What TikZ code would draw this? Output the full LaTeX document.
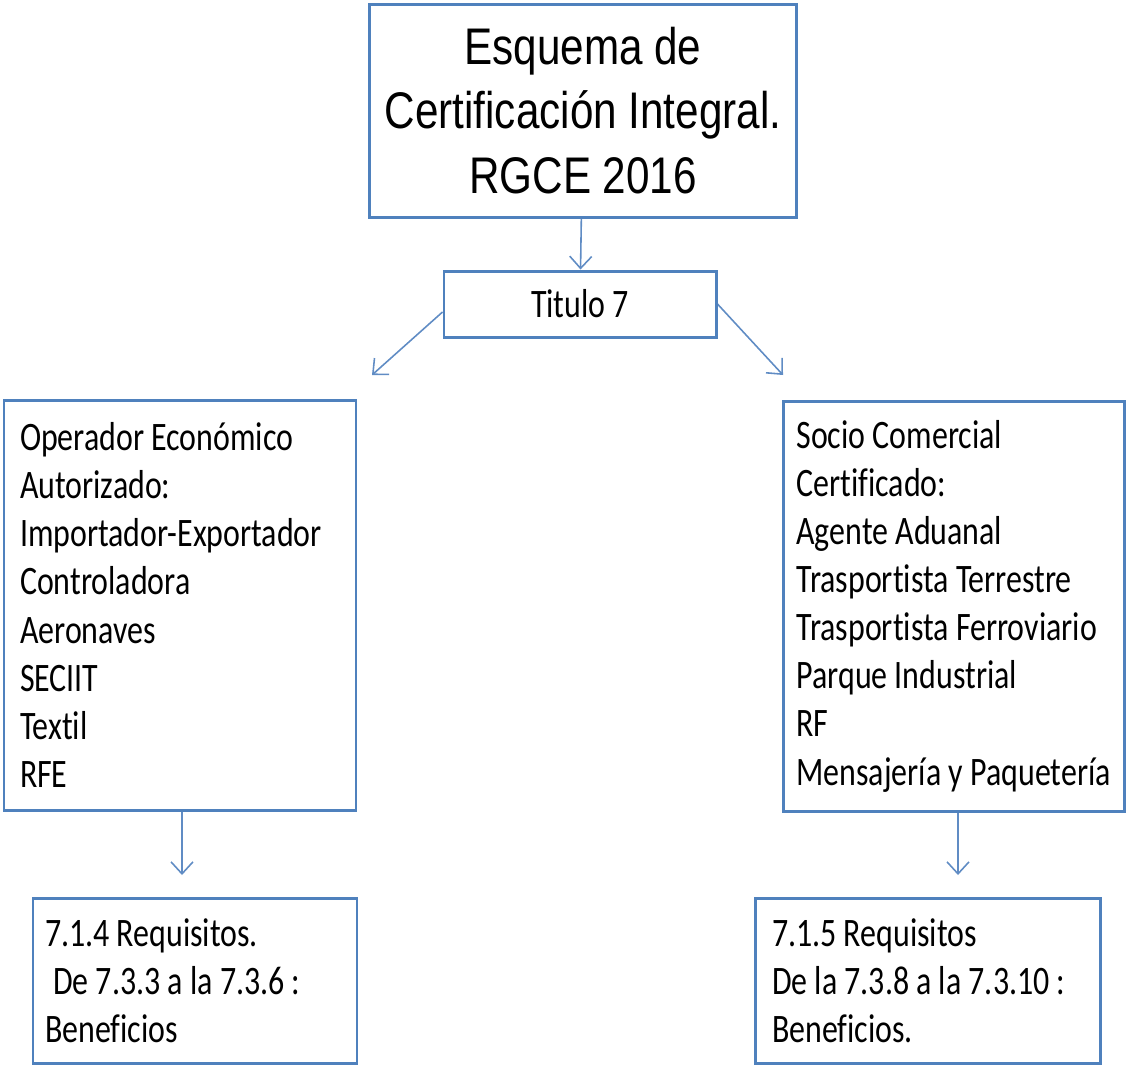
\documentclass[tikz,border=0pt]{standalone}
\usepackage{fontspec}
\usepackage{tikz}
\setmainfont{Carlito}[FakeStretch=0.79, Ligatures=NoCommon]
\newfontfamily\headfont{Liberation Sans}[FakeStretch=0.82]
\hyphenpenalty=10000
\definecolor{white}{rgb}{1.0, 1.0, 1.0}
\definecolor{black}{rgb}{0.0, 0.0, 0.0}
\definecolor{boxblue}{RGB}{79, 129, 189}
\definecolor{linkblue}{RGB}{96, 140, 196}
\usetikzlibrary{arrows.meta}
\pgfdeclarelayer{edgelayer}
\pgfdeclarelayer{nodelayer}
\pgfsetlayers{edgelayer,nodelayer,main}
\tikzstyle{box}=[draw=boxblue, line width=1.7pt, fill=white, inner ysep=0pt]
\tikzstyle{listbox}=[box, align=flush left, font=\fontsize{23}{27.4}\selectfont]
\tikzstyle{link}=[draw=linkblue, line width=0.9pt, -{Straight Barb[length=2.4mm,width=4.4mm]}]

\begin{document}
\begin{tikzpicture}
        \useasboundingbox (0, 0) rectangle (22.54, -21.32);
        \begin{pgfonlayer}{nodelayer}
            \node [style = box, align=flush center, text width=8.3cm, minimum height=4.26cm,
                   font=\headfont\fontsize{29.3}{36.9}\selectfont] (esquema) at (11.66, -2.21)
                {Esquema de\\Certificación Integral.\\RGCE 2016};
            \node [style = box, minimum width=5.44cm, minimum height=1.32cm,
                   font=\fontsize{23}{27.4}\selectfont] (titulo) at (11.6, -6.08) {Titulo 7};
            \node [style = listbox, inner xsep=0.32cm, text width=6.4cm, minimum height=8.2cm] (oea) at (3.6, -12.1)
                {Operador~Económico\\Autorizado:\\Importador-Exportador\\Controladora\\Aeronaves\\SECIIT\\Textil\\RFE};
            \node [style = listbox, inner xsep=0.26cm, text width=6.3cm, minimum height=8.2cm] (scc) at (19.08, -12.12)
                {Socio~Comercial\\Certificado:\\Agente~Aduanal\\Trasportista~Terrestre\\Trasportista~Ferroviario\\Parque~Industrial\\RF\\Mensajería~y~Paquetería};
            \node [style = listbox, inner xsep=0.24cm, text width=6.0cm, minimum height=3.3cm] (reqoea) at (3.9, -19.61)
                {7.1.4~Requisitos.\\\hspace*{0.2em}De~7.3.3~a~la~7.3.6~:\\Beneficios};
            \node [style = listbox, inner xsep=0.34cm, text width=6.22cm, minimum height=3.3cm] (reqscc) at (18.55, -19.61)
                {7.1.5~Requisitos\\De~la~7.3.8~a~la~7.3.10~:\\Beneficios.};
            \coordinate (tipoea) at (7.44, -7.5);
            \coordinate (tipscc) at (15.66, -7.5);
            \coordinate (tipreqoea) at (3.64, -17.5);
            \coordinate (tipreqscc) at (19.16, -17.5);
        \end{pgfonlayer}

        \begin{pgfonlayer}{edgelayer}
            \draw [style = link] (esquema) to (titulo);
            \draw [style = link] ([yshift=-0.16cm]titulo.west) to (tipoea);
            \draw [style = link] (titulo.east) to (tipscc);
            \draw [style = link] (oea.south -| tipreqoea) to (tipreqoea);
            \draw [style = link] (scc.south -| tipreqscc) to (tipreqscc);
        \end{pgfonlayer}
    \end{tikzpicture}
\end{document}
